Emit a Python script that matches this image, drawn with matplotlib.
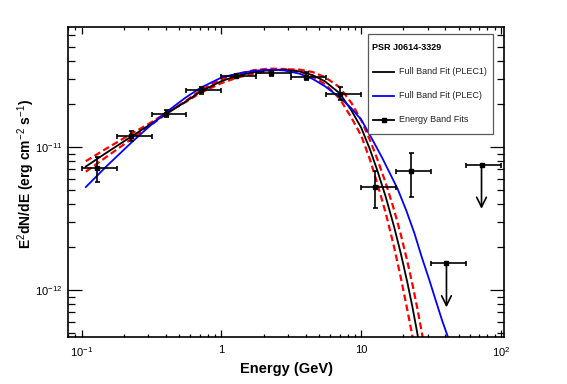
import matplotlib
matplotlib.use("Agg")
import matplotlib.pyplot as plt
from matplotlib.patches import Rectangle
from matplotlib.lines import Line2D
from matplotlib.ticker import LogLocator, FixedLocator, FixedFormatter, NullFormatter
import numpy as np

plt.rcParams['font.family'] = ['Liberation Sans', 'DejaVu Sans']
plt.rcParams['mathtext.fontset'] = 'custom'
plt.rcParams['mathtext.rm'] = 'Liberation Sans'
plt.rcParams['mathtext.bf'] = 'Liberation Sans:bold'

# model curves (GeV, erg cm-2 s-1)
curve_e = [0.107, 0.15, 0.226, 0.3, 0.4, 0.55, 0.71, 1.0, 1.3, 1.7, 2.2, 2.8, 3.6,
           4.5, 5.5, 7.0, 8.5, 10.0, 11.5, 13.0, 15.0, 17.2, 19.2, 21.3, 23.2, 25.1, 27.0, 29.0]
plec1 = [7.3e-12, 9.1e-12, 1.18e-11, 1.41e-11, 1.70e-11, 2.06e-11, 2.44e-11, 2.88e-11,
         3.14e-11, 3.33e-11, 3.43e-11, 3.45e-11, 3.37e-11, 3.17e-11, 2.87e-11, 2.37e-11,
         1.80e-11, 1.36e-11, 9.7e-12, 6.9e-12, 4.45e-12, 2.76e-12, 1.80e-12, 1.15e-12,
         7.7e-13, 5.1e-13, 3.4e-13, 2.25e-13]
band_up = [7.96e-12, 9.74e-12, 1.233e-11, 1.445e-11, 1.717e-11, 2.05e-11, 2.39e-11, 2.79e-11,
           3.05e-11, 3.25e-11, 3.40e-11, 3.48e-11, 3.47e-11, 3.33e-11, 3.07e-11, 2.61e-11,
           2.03e-11, 1.537e-11, 1.125e-11, 8.28e-12, 5.56e-12, 3.62e-12, 2.44e-12, 1.61e-12,
           1.11e-12, 7.6e-13, 5.2e-13, 3.5e-13]
band_dn = [6.72e-12, 8.51e-12, 1.133e-11, 1.382e-11, 1.69e-11, 2.08e-11, 2.49e-11, 2.97e-11,
           3.23e-11, 3.43e-11, 3.52e-11, 3.50e-11, 3.37e-11, 3.11e-11, 2.74e-11, 2.18e-11,
           1.60e-11, 1.197e-11, 8.25e-12, 5.59e-12, 3.43e-12, 1.99e-12, 1.22e-12, 7.4e-13,
           4.8e-13, 3.05e-13, 1.96e-13, 1.26e-13]

plec_e = [0.107, 0.15, 0.226, 0.3, 0.4, 0.55, 0.71, 1.0, 1.3, 1.7, 2.2, 2.8, 3.6, 4.5,
          5.5, 7.0, 8.5, 10.0, 12.05, 14.2, 18.2, 21.0, 24.0, 27.0, 30.6, 34.1, 38.0, 41.8, 46.0]
plec = [5.25e-12, 7.31e-12, 1.07e-11, 1.373e-11, 1.738e-11, 2.20e-11, 2.59e-11, 3.05e-11,
        3.25e-11, 3.40e-11, 3.46e-11, 3.42e-11, 3.25e-11, 2.98e-11, 2.65e-11, 2.22e-11,
        1.86e-11, 1.55e-11, 1.12e-11, 8.3e-12, 5.1e-12, 3.6e-12, 2.5e-12, 1.72e-12,
        1.19e-12, 8.5e-13, 6.1e-13, 4.69e-13, 3.3e-13]

# energy band fits
band_e = [0.128, 0.227, 0.40, 0.71, 1.28, 2.27, 4.05, 7.1, 12.6, 22.8]
band_lo = [0.1, 0.178, 0.316, 0.562, 1.0, 1.78, 3.16, 5.62, 10.0, 17.8]
band_hi = [0.178, 0.316, 0.562, 1.0, 1.78, 3.16, 5.62, 10.0, 17.8, 31.6]
band_f = [7.13e-12, 1.19e-11, 1.71e-11, 2.49e-11, 3.14e-11, 3.26e-11, 3.09e-11, 2.35e-11, 5.27e-12, 6.8e-12]
band_f_lo = [5.7e-12, 1.10e-11, 1.61e-11, 2.35e-11, 3.04e-11, 3.14e-11, 2.91e-11, 2.13e-11, 3.75e-12, 4.5e-12]
band_f_hi = [8.5e-12, 1.30e-11, 1.81e-11, 2.61e-11, 3.24e-11, 3.40e-11, 3.31e-11, 2.60e-11, 6.8e-12, 9.1e-12]

# upper limits
ul_e = [40.7, 72.5]
ul_lo = [31.6, 56.2]
ul_hi = [56.2, 100.0]
ul_f = [1.54e-12, 7.5e-12]
ul_tip = [7.6e-13, 3.7e-12]

fig = plt.figure(figsize=(5.67, 3.84), dpi=100)
ax = fig.add_axes([68/567, 1-337/384, 436/567, 310/384])
ax.set_xscale('log')
ax.set_yscale('log')
ax.set_xlim(0.0798, 105)
ax.set_ylim(4.72e-13, 6.87e-11)

ax.plot(curve_e, band_up, color='red', lw=1.6, dashes=(3, 1.6))
ax.plot(curve_e, band_dn, color='red', lw=1.6, dashes=(3, 1.6))
ax.plot(curve_e, plec1, color='black', lw=1.3)
ax.plot(plec_e, plec, color='blue', lw=1.3)

e = np.array(band_e)
f = np.array(band_f)
ax.errorbar(e, f, xerr=[e - np.array(band_lo), np.array(band_hi) - e],
            yerr=[f - np.array(band_f_lo), np.array(band_f_hi) - f],
            fmt='s', ms=2.5, color='black', ecolor='black', elinewidth=1.2,
            capsize=1.8, capthick=1.2)

ue = np.array(ul_e)
uf = np.array(ul_f)
ax.errorbar(ue, uf, xerr=[ue - np.array(ul_lo), np.array(ul_hi) - ue], fmt='s', ms=2.5,
            color='black', elinewidth=1.2, capsize=1.8, capthick=1.2)
for x0, y0, y1 in zip(ul_e, ul_f, ul_tip):
    ax.annotate('', xy=(x0, y1), xytext=(x0, y0),
                arrowprops=dict(arrowstyle='->,head_length=0.7,head_width=0.35',
                                lw=1.2, color='black', shrinkA=0, shrinkB=0))

# axes styling
for s in ax.spines.values():
    s.set_linewidth(1.2)
ax.xaxis.set_major_locator(FixedLocator([0.1, 1, 10, 100]))
ax.xaxis.set_major_formatter(FixedFormatter([r'$10^{-1}$', '1', '10', r'$10^{2}$']))
ax.xaxis.set_minor_locator(LogLocator(base=10, subs=np.arange(2, 10)))
ax.xaxis.set_minor_formatter(NullFormatter())
ax.yaxis.set_major_locator(FixedLocator([1e-12, 1e-11]))
ax.yaxis.set_major_formatter(FixedFormatter([r'$10^{-12}$', r'$10^{-11}$']))
ax.yaxis.set_minor_locator(LogLocator(base=10, subs=np.arange(2, 10)))
ax.yaxis.set_minor_formatter(NullFormatter())
ax.tick_params(which='both', direction='in', top=True, right=True, labelsize=8, width=0.9)
ax.tick_params(axis='x', which='major', length=5, pad=6)
ax.tick_params(axis='x', which='minor', length=2.5)
ax.tick_params(axis='y', which='major', length=10, pad=4)
ax.tick_params(axis='y', which='minor', length=4.7)

ax.set_xlabel('Energy (GeV)', fontsize=10.5, fontweight='bold')
ax.xaxis.set_label_coords(0.5, -0.08)
ax.set_ylabel(r'E$^{2}$dN/dE (erg cm$^{-2}$ s$^{-1}$)', fontsize=10, fontweight='bold')
ax.yaxis.set_label_coords(-0.07, 0.525)

# legend box drawn by hand
def ax_xy(px, py):
    return (px - 68) / 436, (337 - py) / 310

x0, y0 = ax_xy(368, 134)
x1, y1 = ax_xy(493, 34)
ax.add_patch(Rectangle((x0, y0), x1 - x0, y1 - y0, transform=ax.transAxes,
                       facecolor='white', edgecolor='0.35', lw=0.9, zorder=5))
tx, ty = ax_xy(372, 47)
ax.text(tx, ty, 'PSR J0614-3329', transform=ax.transAxes, fontsize=6.5,
        fontweight='bold', va='center', ha='left', zorder=6)
entries = [('Full Band Fit (PLEC1)', 'black', None, 71.5),
           ('Full Band Fit (PLEC)', 'blue', None, 96),
           ('Energy Band Fits', 'black', 's', 120)]
for label, col, mk, py in entries:
    la, lb = ax_xy(373, py)
    lc, _ = ax_xy(394, py)
    ax.add_line(Line2D([la, lc], [lb, lb], color=col, lw=1.3, transform=ax.transAxes, zorder=6))
    if mk:
        mx, _ = ax_xy(383.5, py)
        ax.add_line(Line2D([mx], [lb], marker=mk, ms=2.5, color=col,
                           transform=ax.transAxes, zorder=6))
    tx, _ = ax_xy(399, py)
    ax.text(tx, lb, label, transform=ax.transAxes, fontsize=6.5, va='center',
            ha='left', color='#222222', zorder=6)

fig.savefig('out.png', dpi=100)
